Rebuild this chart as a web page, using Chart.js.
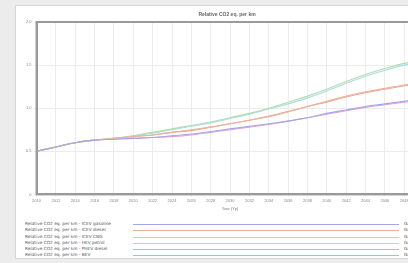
<!DOCTYPE html>
<html>
<head>
<meta charset="utf-8">
<script src="https://cdn.jsdelivr.net/npm/chart.js@4"></script>
<style>
  body { margin: 0; background: #ececec; width: 408px; height: 263px; overflow: hidden; font-family: "DejaVu Sans", sans-serif; }
  .panel { position: absolute; left: 15px; top: 5px; width: 440px; height: 252px; background: #fff; border: 1px solid #d6d6d6; }
  .chart_box { position: absolute; left: 0; top: 0; }
  .legend { position: absolute; left: 9px; top: 215px; width: 440px; }
  .row { position: relative; height: 6.3px; font-size: 4.3px; color: #555; line-height: 6.3px; white-space: nowrap; }
  .row .line { position: absolute; left: 108px; width: 266px; top: 3px; height: 1px; }
  .row .end { position: absolute; left: 379px; }
</style>
</head>
<body>
<div class="panel">
  <div class="chart_box"><canvas id="co2_canvas" width="414" height="206"></canvas></div>
  <div class="legend" id="legend"></div>
</div>
<script>
const years = ["2010", "2012", "2014", "2016", "2018", "2020", "2022", "2024", "2026", "2028", "2030",
  "2032", "2034", "2036", "2038", "2040", "2042", "2044", "2046", "2048", "2050"];
const seriesNames = [
  "Relative CO2 eq. per km - ICEV gasoline",
  "Relative CO2 eq. per km - ICEV diesel",
  "Relative CO2 eq. per km - ICEV CNG",
  "Relative CO2 eq. per km - HEV petrol",
  "Relative CO2 eq. per km - PHEV diesel",
  "Relative CO2 eq. per km - BEV"
];
const seriesColors = ["#a6a6e6", "#eeb29c", "#b2dcb2", "#a8dede", "#e3a3d6", "#e8a898"];
const gasoline = [0.50, 0.55, 0.60, 0.63, 0.64, 0.65, 0.66, 0.68, 0.70, 0.73, 0.76, 0.79, 0.82, 0.85, 0.89, 0.94, 0.98, 1.02, 1.05, 1.08, 1.11];
const diesel   = [0.50, 0.55, 0.60, 0.63, 0.65, 0.67, 0.69, 0.72, 0.75, 0.78, 0.82, 0.86, 0.91, 0.96, 1.02, 1.08, 1.14, 1.19, 1.23, 1.27, 1.30];
const cng      = [0.50, 0.55, 0.60, 0.63, 0.65, 0.68, 0.72, 0.76, 0.80, 0.84, 0.89, 0.94, 1.00, 1.07, 1.14, 1.22, 1.31, 1.39, 1.46, 1.52, 1.56];
const hev      = [0.50, 0.55, 0.60, 0.63, 0.65, 0.68, 0.71, 0.75, 0.79, 0.83, 0.88, 0.93, 0.99, 1.05, 1.12, 1.20, 1.29, 1.37, 1.44, 1.50, 1.54];
const phev     = [0.50, 0.55, 0.60, 0.63, 0.64, 0.65, 0.66, 0.67, 0.69, 0.72, 0.75, 0.78, 0.81, 0.85, 0.89, 0.93, 0.97, 1.01, 1.04, 1.07, 1.10];
const bev      = [0.50, 0.55, 0.60, 0.63, 0.65, 0.67, 0.69, 0.72, 0.74, 0.78, 0.82, 0.86, 0.90, 0.96, 1.02, 1.07, 1.13, 1.18, 1.22, 1.26, 1.29];
const yTicks = [0, 0.5, 1, 1.5, 2];

const seriesValues = [gasoline, diesel, cng, hev, phev, bev];

// frame around the plot area
const frame = {
  id: "frame",
  afterDraw(chart) {
    const a = chart.chartArea, c = chart.ctx;
    c.save();
    c.strokeStyle = "#9a9a9a";
    c.lineWidth = 2;
    c.strokeRect(a.left, a.top, a.right - a.left, a.bottom - a.top);
    c.restore();
  }
};

let ctx = document.getElementById("co2_canvas");
new Chart(ctx, {
  type: "line",
  data: {
    labels: years,
    datasets: seriesValues.map((v, i) => ({
      label: seriesNames[i],
      data: v,
      borderColor: seriesColors[i],
      borderWidth: 1.1,
      pointRadius: 0,
      tension: 0.4,
      fill: false
    }))
  },
  options: {
    responsive: false,
    animation: false,
    layout: { padding: { left: 8, right: 0, top: 2, bottom: 0 } },
    plugins: {
      legend: { display: false },
      tooltip: { enabled: false },
      title: {
        display: true,
        text: "Relative CO2 eq. per km",
        color: "#666",
        font: { size: 5 },
        padding: { top: 4, bottom: 4 }
      }
    },
    scales: {
      x: {
        grid: { color: "#ececec", lineWidth: 1, tickLength: 2 },
        border: { color: "#9a9a9a", width: 2 },
        ticks: { color: "#888", font: { size: 4 }, maxRotation: 0, autoSkip: false, padding: 2 },
        title: { display: true, text: "Year (Yp)", color: "#777", font: { size: 4 }, padding: 1 }
      },
      y: {
        min: 0,
        max: 2,
        afterBuildTicks: (axis) => { axis.ticks = yTicks.map((v) => ({ value: v })); },
        grid: { color: "#ececec", lineWidth: 1, tickLength: 3 },
        border: { color: "#9a9a9a", width: 2 },
        ticks: { color: "#888", font: { size: 4 }, padding: 2 }
      }
    }
  },
  plugins: [frame]
});

// legend rows: name, coloured line, short tag on the right
const legendEl = document.getElementById("legend");
seriesNames.forEach((name, i) => {
  const row = document.createElement("div");
  row.className = "row";
  row.innerHTML = name + '<div class="line" style="background:' + seriesColors[i] + '"></div><span class="end">Ga</span>';
  legendEl.appendChild(row);
});
</script>
</body>
</html>
